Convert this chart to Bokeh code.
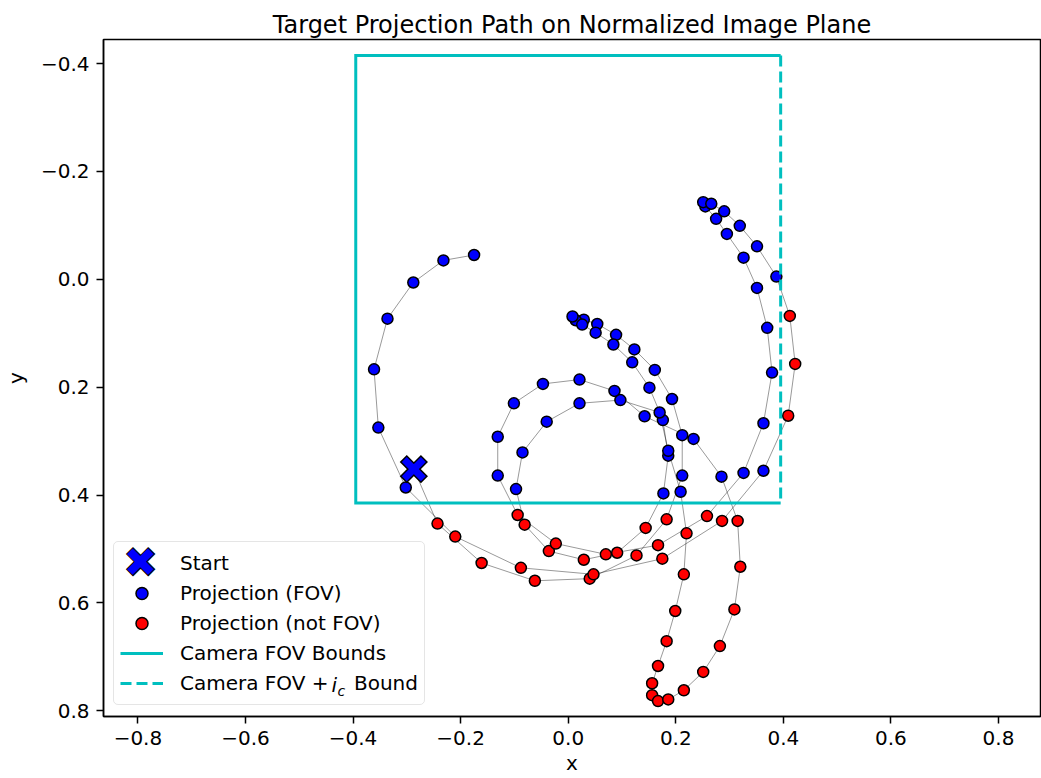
import numpy as np
from bokeh.plotting import figure
from bokeh.models import (ColumnDataSource, Range1d, FixedTicker, CustomJSTickFormatter,
                          Legend, LegendItem, Label, LinearAxis)
from bokeh.embed import file_html
from bokeh.resources import INLINE

# ---------------- data (normalized image plane, time order; first sample = start) -------------
path_x = [-0.287, -0.243, -0.161, -0.062, 0.040, 0.127, 0.183, 0.212, 0.212, 0.193,
          0.161, 0.123, 0.089, 0.054, 0.029, 0.014, 0.008, 0.026, 0.051, 0.084,
          0.119, 0.151, 0.176, 0.186, 0.177, 0.144, 0.091, 0.029, -0.036, -0.081,
          -0.097, -0.085, -0.040, 0.021, 0.097, 0.170, 0.186, 0.209, 0.220, 0.215,
          0.199, 0.183, 0.167, 0.156, 0.156, 0.167, 0.186, 0.215, 0.251, 0.282,
          0.309, 0.320, 0.315, 0.285, 0.233, 0.142, 0.086, 0.021, -0.047, -0.101,
          -0.131, -0.131, -0.094, -0.023, 0.070, 0.167, 0.258, 0.326, 0.363, 0.379,
          0.370, 0.351, 0.326, 0.295, 0.275, 0.255, 0.251, 0.266, 0.290, 0.319,
          0.351, 0.387, 0.412, 0.422, 0.409, 0.363, 0.286, 0.175, 0.047, -0.088,
          -0.210, -0.302, -0.353, -0.361, -0.336, -0.288, -0.232, -0.175]
path_y = [0.352, 0.453, 0.526, 0.559, 0.555, 0.512, 0.445, 0.364, 0.289, 0.222,
          0.168, 0.130, 0.103, 0.083, 0.075, 0.076, 0.069, 0.084, 0.099, 0.121,
          0.154, 0.201, 0.261, 0.327, 0.397, 0.461, 0.507, 0.520, 0.504, 0.455,
          0.389, 0.321, 0.264, 0.230, 0.224, 0.247, 0.318, 0.394, 0.471, 0.547,
          0.615, 0.671, 0.717, 0.749, 0.771, 0.782, 0.779, 0.762, 0.728, 0.680,
          0.612, 0.533, 0.448, 0.366, 0.296, 0.254, 0.207, 0.186, 0.194, 0.230,
          0.292, 0.364, 0.437, 0.490, 0.510, 0.493, 0.439, 0.359, 0.267, 0.173,
          0.090, 0.016, -0.040, -0.084, -0.112, -0.135, -0.143, -0.140, -0.126, -0.099,
          -0.061, -0.005, 0.068, 0.157, 0.253, 0.355, 0.448, 0.518, 0.547, 0.535,
          0.477, 0.386, 0.275, 0.167, 0.073, 0.006, -0.035, -0.045]

FOV_HALF_X = 0.395
FOV_HALF_Y = 0.415

x_ticks = [-0.8, -0.6, -0.4, -0.2, 0.0, 0.2, 0.4, 0.6, 0.8]
y_ticks = [-0.4, -0.2, 0.0, 0.2, 0.4, 0.6, 0.8]

X_RANGE = (-0.8640, 0.8781)
Y_RANGE = (0.8106, -0.4445)   # inverted y axis (image plane)

# ---------------- derived ----------------
px = np.array(path_x)
py = np.array(path_y)
in_fov = (np.abs(px) <= FOV_HALF_X) & (np.abs(py) <= FOV_HALF_Y)
src_in = ColumnDataSource(dict(x=px[in_fov], y=py[in_fov]))
src_out = ColumnDataSource(dict(x=px[~in_fov], y=py[~in_fov]))
src_start = ColumnDataSource(dict(x=[path_x[0]], y=[path_y[0]]))

fov_x = [FOV_HALF_X, -FOV_HALF_X, -FOV_HALF_X, FOV_HALF_X]
fov_y = [-FOV_HALF_Y, -FOV_HALF_Y, FOV_HALF_Y, FOV_HALF_Y]
edge_x = [FOV_HALF_X, FOV_HALF_X]
edge_y = [-FOV_HALF_Y, FOV_HALF_Y]

FONT = "DejaVu Sans"
CYAN = "#00bfbf"

p = figure(width=1041, height=778, output_backend="svg", toolbar_location=None,
           x_range=Range1d(*X_RANGE), y_range=Range1d(*Y_RANGE),
           min_border_left=101, min_border_right=1, min_border_top=39, min_border_bottom=62,
           title="Target Projection Path on Normalized Image Plane")

p.title.text_font = FONT
p.title.text_font_size = "24px"
p.title.text_font_style = "normal"
p.title.text_color = "black"
p.title.align = "center"
p.title.standoff = 2

xax = p.below[0]
yax = p.left[0]

# invisible spacer axis between title and frame (lifts the title a little)
spacer = LinearAxis(ticker=FixedTicker(ticks=[]), axis_line_color=None,
                    major_tick_line_color=None, minor_tick_line_color=None,
                    major_tick_out=9, major_tick_in=0, major_label_standoff=0,
                    major_label_text_font_size="0px")
p.add_layout(spacer, "above")

p.xgrid.visible = False
p.ygrid.visible = False
p.outline_line_color = "black"
p.outline_line_width = 1.5
p.outline_line_alpha = 1.0

fmt = CustomJSTickFormatter(code="return tick.toFixed(1).replace('-', '\u2212');")
for ax, ticks, lab in ((xax, x_ticks, "x"), (yax, y_ticks, "y")):
    ax.ticker = FixedTicker(ticks=ticks)
    ax.formatter = fmt
    ax.axis_label = lab
    ax.major_label_text_font = FONT
    ax.major_label_text_font_size = "20px"
    ax.major_label_text_color = "black"
    ax.axis_label_text_font = FONT
    ax.axis_label_text_font_size = "20px"
    ax.axis_label_text_font_style = "normal"
    ax.axis_label_text_color = "black"
    ax.major_tick_out = 7
    ax.major_tick_in = 0
    ax.major_tick_line_width = 1.5
    ax.major_tick_line_color = "black"
    ax.minor_tick_line_color = None
    ax.axis_line_width = 1.5
    ax.axis_line_color = "black"
    ax.major_label_standoff = 7
xax.axis_label_standoff = 3
yax.axis_label_standoff = 10

# path
p.line(px, py, line_color="black", line_alpha=0.4, line_width=1)
# projections
r_in = p.scatter("x", "y", source=src_in, size=11, fill_color="#0000ff",
                 line_color="black", line_width=1.5)
r_out = p.scatter("x", "y", source=src_out, size=11, fill_color="#ff0000",
                  line_color="black", line_width=1.5)
# start marker (filled X look)
p.scatter("x", "y", source=src_start, marker="x", size=30, line_color="black", line_width=10)
p.scatter("x", "y", source=src_start, marker="x", size=27, line_color="#0000ff", line_width=7)
# legend placeholder for the start entry (its swatch is drawn as a symbol label below)
lx = p.scatter("x", "y", source=src_start, marker="x", size=12, line_alpha=0,
               visible=False)
# FOV bounds
r_rect = p.line(fov_x, fov_y, line_color=CYAN, line_width=3, line_join="miter")
r_dash = p.line(edge_x, edge_y, line_color=CYAN, line_width=3, line_dash="11 5")

NB = "\u00a0"
legend = Legend(items=[
    LegendItem(label="Start", renderers=[lx]),
    LegendItem(label="Projection (FOV)", renderers=[r_in]),
    LegendItem(label="Projection (not FOV)", renderers=[r_out]),
    LegendItem(label="Camera FOV Bounds", renderers=[r_rect]),
    LegendItem(label="Camera FOV +" + NB * 4 + "Bound", renderers=[r_dash]),
], location=(10, 11))
legend.padding = 6
legend.spacing = 0
legend.margin = 0
legend.glyph_width = 43
legend.glyph_height = 30
legend.label_height = 30
legend.label_standoff = 17
legend.label_text_font = FONT
legend.label_text_font_size = "20px"
legend.label_text_color = "black"
legend.border_line_color = "#cccccc"
legend.border_line_width = 1.5
legend.border_radius = 5
legend.background_fill_alpha = 0.0
p.add_layout(legend)

# start swatch in legend: big filled X
start_sw = Label(x=37, y=154, x_units="screen", y_units="screen", text="\u2716",
                 text_font=FONT, text_font_size="42px", text_color="#0000ff",
                 text_baseline="middle", text_align="center", level="overlay")
try:
    start_sw.text_outline_color = "black"
except Exception:
    pass
p.add_layout(start_sw)

# math part of last legend label: italic i with subscript c
p.add_layout(Label(x=228, y=32, x_units="screen", y_units="screen", text="i",
                   text_font=FONT, text_font_size="20px", text_font_style="italic",
                   text_color="black", text_baseline="middle", text_align="left",
                   level="overlay"))
p.add_layout(Label(x=234, y=26, x_units="screen", y_units="screen", text="c",
                   text_font=FONT, text_font_size="14px", text_font_style="italic",
                   text_color="black", text_baseline="middle", text_align="left",
                   level="overlay"))

open("out.html", "w").write(file_html(p, INLINE))
